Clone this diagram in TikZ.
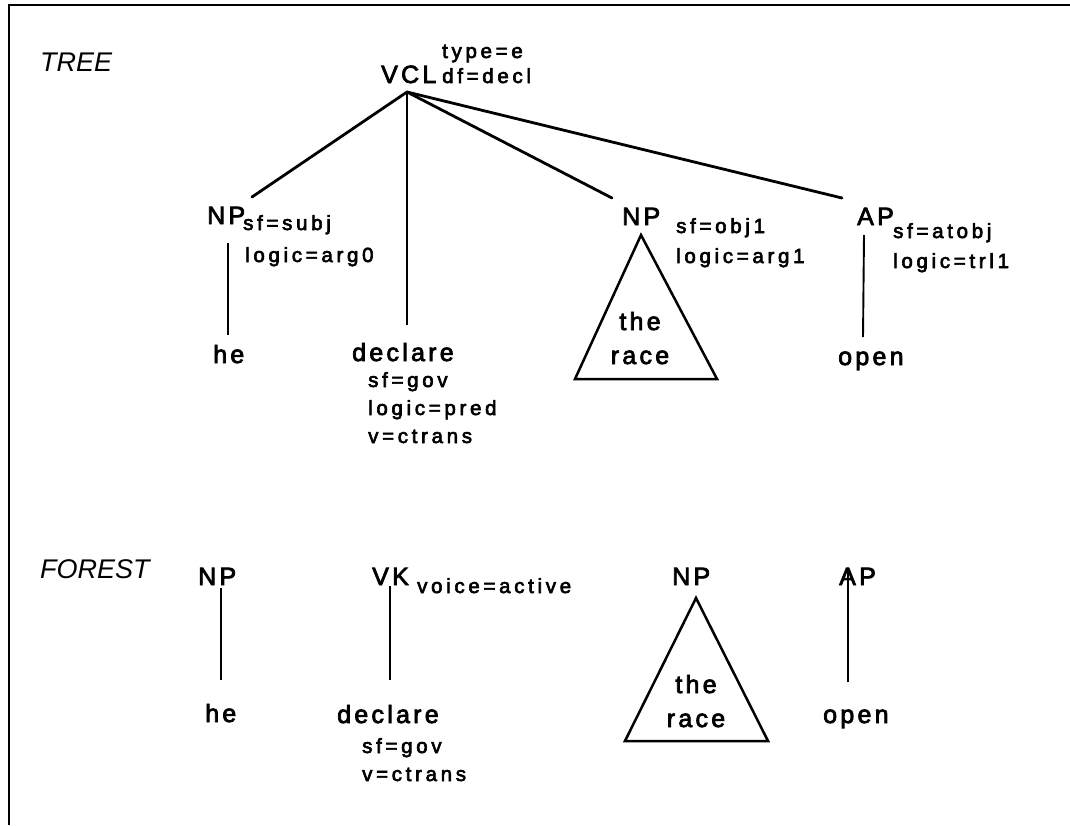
\documentclass[tikz,border=0pt]{standalone}
\usepackage{fontspec}
\setmainfont{Liberation Sans}
\newfontfamily\catfont[LetterSpace=13,FakeBold=3]{Liberation Sans}
\newfontfamily\featfont[LetterSpace=18,FakeBold=3]{Liberation Sans}
\newfontfamily\headfont{Liberation Sans}
\begin{document}
\begin{tikzpicture}[x=1pt,y=-1pt,
  cat/.style={font=\catfont\fontsize{25}{28}\selectfont, inner sep=0pt, anchor=base west},
  catc/.style={font=\catfont\fontsize{25}{28}\selectfont, inner sep=0pt, anchor=base},
  feat/.style={font=\featfont\fontsize{20.5}{23}\selectfont, inner sep=0pt, anchor=base west},
  head/.style={font=\headfont\itshape\fontsize{27}{30}\selectfont, inner sep=0pt, anchor=base west},
  branch/.style={line width=2.8pt, line cap=round},
  stem/.style={line width=1.9pt},
  tri/.style={line width=2.5pt, line join=miter}]
\useasboundingbox (0,0) rectangle (1070,825);

% frame edges
\draw[line width=2.5pt] (9,825) -- (9,5) -- (1070,5);

% ---------- TREE ----------
\node[head] (treelbl) at (40,71) {TREE};

\node[cat] (vcl) at (381,83) {VCL};
\node[feat] (vcltype) at (442,58) {type=e};
\node[feat] (vcldf) at (442,83) {df=decl};
\coordinate (root) at (407,92);

\node[cat] (np1) at (207,224) {NP};
\node[feat] (np1sf) at (243,230) {sf=subj};
\node[feat] (np1lg) at (245,262) {logic=arg0};
\coordinate (np1up) at (252,197);
\coordinate (np1dn) at (228,243);

\node[cat] (he1) at (213,363) {he};
\coordinate (he1up) at (228,335);

\node[cat] (decl1) at (352,361) {declare};
\node[feat] (decl1sf) at (368,387) {sf=gov};
\node[feat] (decl1lg) at (368,415) {logic=pred};
\node[feat] (decl1v) at (368,443) {v=ctrans};
\coordinate (decl1up) at (407,325);

\node[cat] (np2) at (622,225) {NP};
\node[feat] (np2sf) at (676,233) {sf=obj1};
\node[feat] (np2lg) at (676,263) {logic=arg1};
\coordinate (np2up) at (612,198);
\coordinate (t1a) at (641,235);
\coordinate (t1b) at (575,379);
\coordinate (t1c) at (717,379);
\node[catc] (the1) at (640,330) {the};
\node[catc] (race1) at (640,364) {race};

\node[cat] (ap1) at (857,225) {AP};
\node[feat] (ap1sf) at (893,238) {sf=atobj};
\node[feat] (ap1lg) at (893,268) {logic=trl1};
\coordinate (ap1up) at (842,198);
\coordinate (ap1dn) at (864,235);
\node[cat] (open1) at (838,365) {open};
\coordinate (open1up) at (863,337);

\draw[branch] (root) -- (np1up);
\draw[branch] (root) -- (np2up);
\draw[branch] (root) -- (ap1up);
\draw[stem] (root) -- (decl1up);
\draw[stem] (np1dn) -- (he1up);
\draw[stem] (ap1dn) -- (open1up);
\draw[tri] (t1a) -- (t1b) -- (t1c) -- cycle;

% ---------- FOREST ----------
\node[head] (forestlbl) at (40,578) {FOREST};

\node[cat] (np3) at (198,585) {NP};
\coordinate (np3dn) at (221,588);
\node[cat] (he2) at (205,722) {he};
\coordinate (he2up) at (221,680);

\node[cat] (vk) at (372,585) {VK};
\node[feat] (vkvoice) at (417,593) {voice=active};
\coordinate (vkdn) at (390,586);
\node[cat] (decl2) at (337,723) {declare};
\node[feat] (decl2sf) at (362,753) {sf=gov};
\node[feat] (decl2v) at (362,781) {v=ctrans};
\coordinate (decl2up) at (390,680);

\node[cat] (np4) at (672,585) {NP};
\coordinate (t2a) at (696,598);
\coordinate (t2b) at (625,741);
\coordinate (t2c) at (768,741);
\node[catc] (the2) at (696,693) {the};
\node[catc] (race2) at (696,727) {race};

\node[cat] (ap2) at (839,585) {AP};
\coordinate (ap2in) at (848,569);
\node[cat] (open2) at (823,723) {open};
\coordinate (open2up) at (848,682);

\draw[stem] (np3dn) -- (he2up);
\draw[stem] (vkdn) -- (decl2up);
\draw[stem] (open2up) -- (ap2in);
\draw[tri] (t2a) -- (t2b) -- (t2c) -- cycle;
\end{tikzpicture}
\end{document}
